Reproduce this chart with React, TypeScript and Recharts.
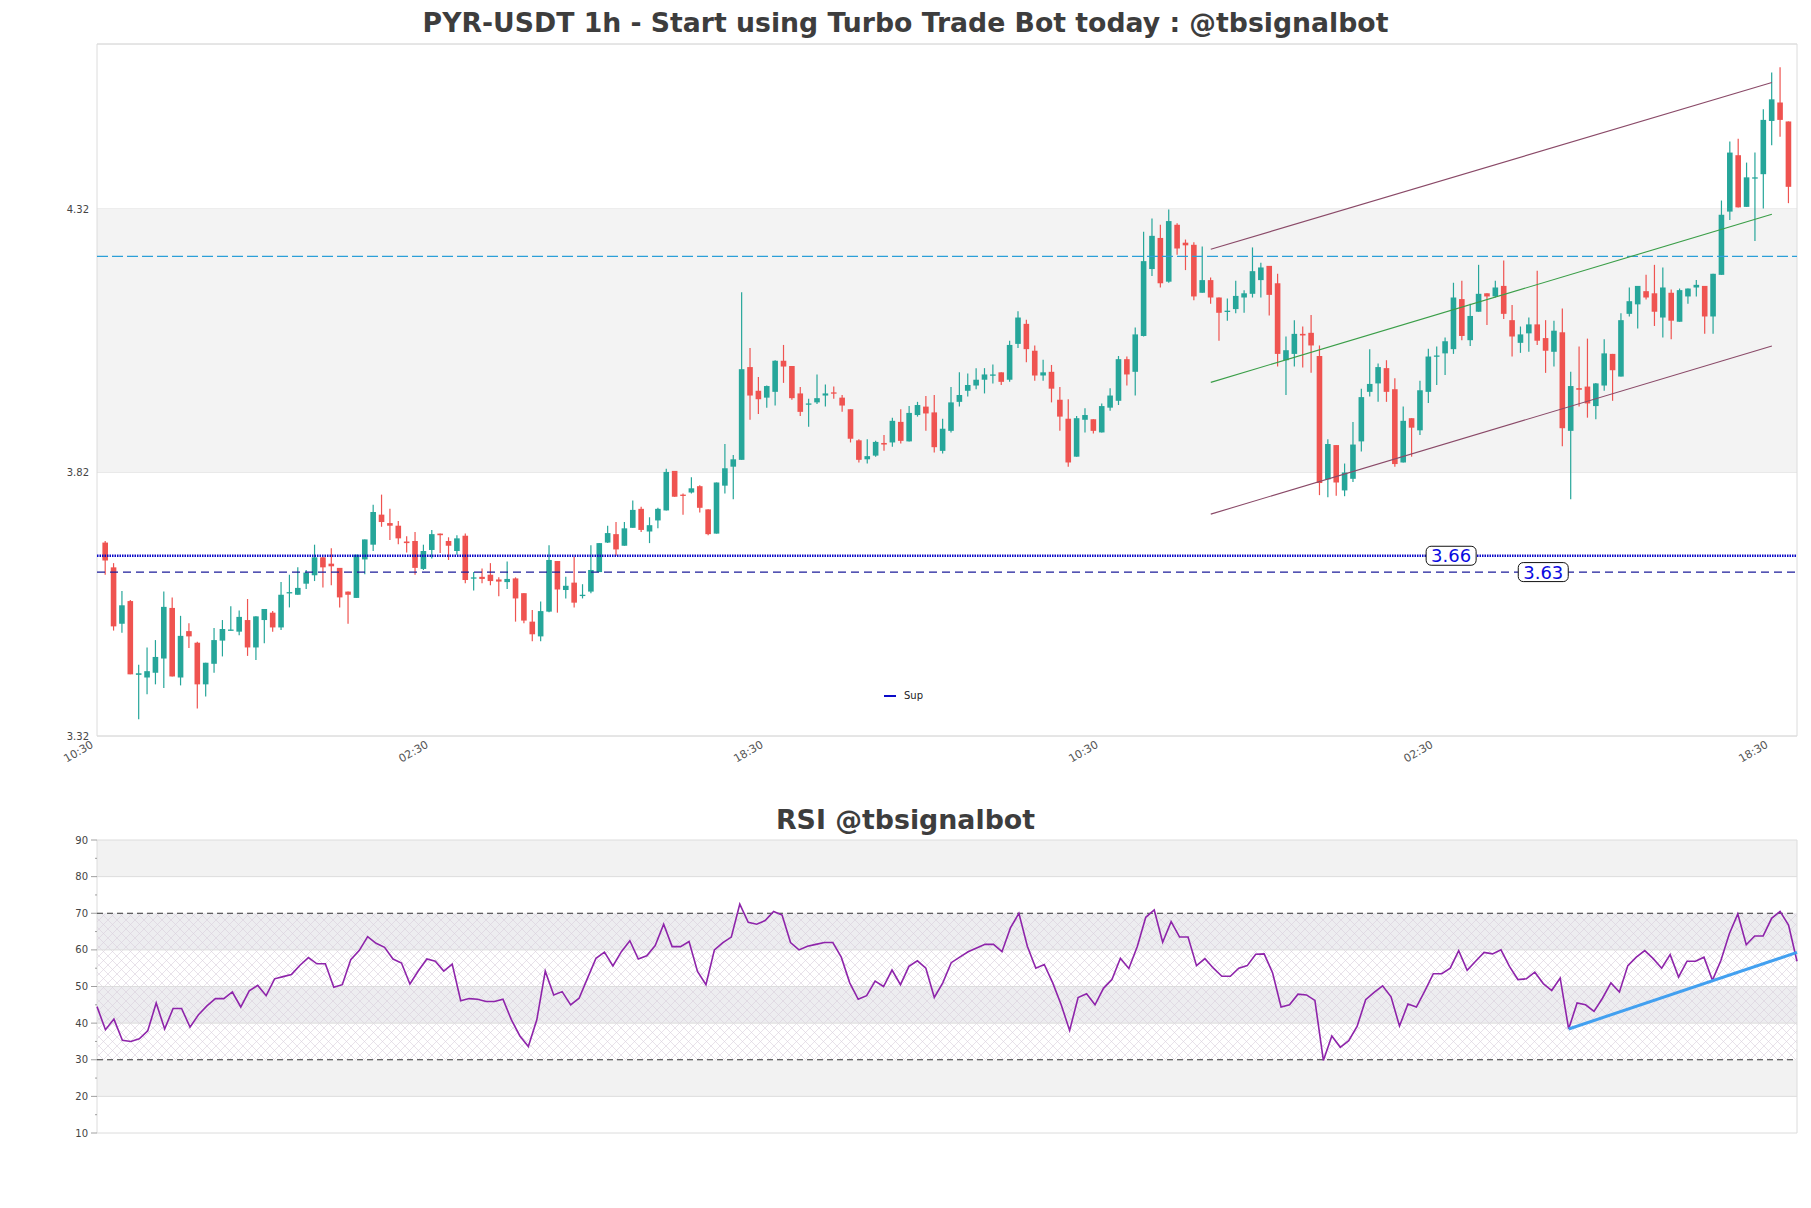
import {
  ComposedChart,
  Bar,
  Line,
  XAxis,
  YAxis,
  CartesianGrid,
  ReferenceLine,
  ReferenceArea,
  ReferenceDot,
} from "recharts";

// hourly candles, index 1..202
const opens = [
  3.687, 3.640, 3.533, 3.576, 3.436, 3.431, 3.440, 3.467, 3.563, 3.431,
  3.519, 3.497, 3.418, 3.457, 3.501, 3.520, 3.518, 3.540, 3.488, 3.540,
  3.554, 3.526, 3.592, 3.588, 3.609, 3.625, 3.659, 3.647, 3.639, 3.594,
  3.582, 3.655, 3.683, 3.740, 3.724, 3.719, 3.689, 3.690, 3.637, 3.673,
  3.704, 3.690, 3.671, 3.700, 3.619, 3.622, 3.626, 3.617, 3.612, 3.619,
  3.591, 3.537, 3.509, 3.556, 3.652, 3.597, 3.611, 3.586, 3.594, 3.631,
  3.687, 3.703, 3.681, 3.715, 3.751, 3.708, 3.729, 3.748, 3.823, 3.778,
  3.782, 3.794, 3.750, 3.704, 3.795, 3.831, 3.844, 4.020, 3.975, 3.962,
  3.973, 4.032, 4.022, 3.970, 3.950, 3.953, 3.966, 3.972, 3.962, 3.940,
  3.881, 3.845, 3.852, 3.876, 3.877, 3.916, 3.879, 3.929, 3.945, 3.934,
  3.861, 3.899, 3.954, 3.975, 3.985, 3.996, 4.004, 4.010, 3.996, 4.064,
  4.102, 4.051, 4.004, 4.011, 3.958, 3.922, 3.850, 3.920, 3.921, 3.896,
  3.943, 3.956, 4.035, 4.011, 4.079, 4.206, 4.265, 4.182, 4.290, 4.256,
  4.252, 4.161, 4.185, 4.152, 4.125, 4.130, 4.152, 4.159, 4.185, 4.212,
  4.179, 4.033, 4.045, 4.083, 4.085, 4.041, 3.807, 3.872, 3.786, 3.808,
  3.879, 3.973, 3.989, 4.018, 3.978, 3.839, 3.923, 3.900, 3.973, 4.040,
  4.046, 4.054, 4.149, 4.071, 4.125, 4.160, 4.154, 4.174, 4.109, 4.066,
  4.084, 4.101, 4.075, 4.049, 4.086, 3.899, 3.980, 3.983, 3.946, 3.985,
  4.045, 4.002, 4.121, 4.139, 4.164, 4.160, 4.114, 4.161, 4.106, 4.154,
  4.171, 4.174, 4.116, 4.195, 4.315, 4.422, 4.324, 4.378, 4.386, 4.487,
  4.522, 4.486,
];
const highs = [
  3.690, 3.648, 3.595, 3.578, 3.455, 3.488, 3.502, 3.594, 3.583, 3.548,
  3.534, 3.499, 3.459, 3.525, 3.540, 3.566, 3.558, 3.580, 3.547, 3.561,
  3.557, 3.612, 3.626, 3.640, 3.635, 3.683, 3.659, 3.676, 3.639, 3.594,
  3.664, 3.693, 3.759, 3.778, 3.751, 3.728, 3.699, 3.707, 3.683, 3.711,
  3.704, 3.697, 3.701, 3.704, 3.631, 3.638, 3.648, 3.621, 3.651, 3.621,
  3.591, 3.559, 3.575, 3.682, 3.652, 3.622, 3.660, 3.608, 3.682, 3.686,
  3.719, 3.726, 3.726, 3.767, 3.755, 3.735, 3.753, 3.827, 3.823, 3.780,
  3.811, 3.796, 3.750, 3.801, 3.874, 3.853, 4.162, 4.056, 4.001, 3.985,
  4.033, 4.062, 4.022, 3.982, 3.960, 4.006, 3.987, 3.983, 3.967, 3.940,
  3.883, 3.883, 3.880, 3.891, 3.924, 3.940, 3.946, 3.954, 3.965, 3.967,
  3.922, 3.982, 4.010, 4.008, 4.018, 4.018, 4.025, 4.010, 4.070, 4.126,
  4.110, 4.061, 4.034, 4.024, 3.982, 3.959, 3.927, 3.942, 3.921, 3.951,
  3.980, 4.041, 4.040, 4.095, 4.277, 4.302, 4.290, 4.319, 4.293, 4.262,
  4.257, 4.249, 4.190, 4.152, 4.150, 4.184, 4.166, 4.247, 4.218, 4.212,
  4.197, 4.078, 4.109, 4.097, 4.119, 4.061, 3.883, 3.872, 3.837, 3.916,
  3.979, 4.054, 4.027, 4.033, 3.999, 3.945, 3.923, 3.994, 4.055, 4.059,
  4.076, 4.180, 4.184, 4.140, 4.214, 4.160, 4.184, 4.222, 4.138, 4.097,
  4.114, 4.203, 4.109, 4.108, 4.131, 4.011, 4.059, 4.074, 3.990, 4.073,
  4.045, 4.122, 4.171, 4.174, 4.195, 4.214, 4.209, 4.167, 4.169, 4.169,
  4.185, 4.174, 4.197, 4.336, 4.448, 4.453, 4.408, 4.427, 4.509, 4.579,
  4.589, 4.486,
];
const lows = [
  3.626, 3.520, 3.516, 3.437, 3.352, 3.399, 3.418, 3.411, 3.433, 3.416,
  3.487, 3.372, 3.395, 3.440, 3.471, 3.520, 3.511, 3.472, 3.464, 3.496,
  3.518, 3.521, 3.564, 3.588, 3.599, 3.614, 3.602, 3.606, 3.564, 3.533,
  3.582, 3.627, 3.671, 3.717, 3.692, 3.684, 3.668, 3.626, 3.635, 3.657,
  3.667, 3.654, 3.664, 3.610, 3.596, 3.610, 3.606, 3.585, 3.599, 3.537,
  3.534, 3.500, 3.500, 3.555, 3.554, 3.581, 3.564, 3.581, 3.591, 3.631,
  3.686, 3.662, 3.681, 3.715, 3.707, 3.686, 3.714, 3.748, 3.774, 3.740,
  3.780, 3.744, 3.701, 3.704, 3.780, 3.769, 3.844, 3.920, 3.931, 3.943,
  3.947, 3.990, 3.958, 3.927, 3.907, 3.950, 3.945, 3.960, 3.935, 3.877,
  3.839, 3.837, 3.850, 3.861, 3.869, 3.875, 3.879, 3.926, 3.899, 3.858,
  3.856, 3.896, 3.945, 3.964, 3.978, 3.970, 3.989, 3.986, 3.992, 4.056,
  4.029, 3.994, 3.994, 3.953, 3.899, 3.831, 3.850, 3.896, 3.894, 3.896,
  3.937, 3.948, 3.985, 3.966, 4.078, 4.193, 4.171, 4.180, 4.233, 4.204,
  4.147, 4.161, 4.140, 4.070, 4.108, 4.122, 4.123, 4.152, 4.152, 4.118,
  4.021, 3.967, 4.021, 4.019, 4.009, 3.777, 3.773, 3.776, 3.775, 3.802,
  3.860, 3.964, 3.954, 3.954, 3.831, 3.839, 3.850, 3.891, 3.952, 3.986,
  4.005, 4.045, 4.071, 4.060, 4.125, 4.100, 4.152, 4.111, 4.040, 4.047,
  4.049, 4.062, 4.009, 4.021, 3.870, 3.769, 3.945, 3.924, 3.921, 3.975,
  3.956, 4.002, 4.116, 4.093, 4.148, 4.098, 4.076, 4.073, 4.106, 4.140,
  4.154, 4.083, 4.083, 4.195, 4.299, 4.323, 4.324, 4.259, 4.321, 4.441,
  4.457, 4.331,
];
const closes = [
  3.653, 3.528, 3.568, 3.437, 3.439, 3.443, 3.470, 3.565, 3.433, 3.510,
  3.509, 3.418, 3.459, 3.502, 3.523, 3.522, 3.546, 3.488, 3.547, 3.561,
  3.526, 3.588, 3.593, 3.601, 3.630, 3.659, 3.640, 3.642, 3.583, 3.588,
  3.664, 3.693, 3.745, 3.726, 3.719, 3.695, 3.686, 3.639, 3.671, 3.703,
  3.701, 3.681, 3.695, 3.616, 3.621, 3.618, 3.614, 3.613, 3.618, 3.581,
  3.539, 3.513, 3.557, 3.654, 3.598, 3.605, 3.573, 3.588, 3.635, 3.686,
  3.705, 3.674, 3.714, 3.749, 3.711, 3.720, 3.751, 3.821, 3.774, 3.776,
  3.790, 3.753, 3.703, 3.801, 3.828, 3.845, 4.016, 3.966, 3.959, 3.984,
  4.032, 4.021, 3.961, 3.935, 3.951, 3.961, 3.970, 3.970, 3.947, 3.884,
  3.844, 3.851, 3.878, 3.873, 3.918, 3.880, 3.933, 3.948, 3.932, 3.868,
  3.903, 3.953, 3.967, 3.986, 3.996, 4.006, 4.006, 3.992, 4.062, 4.114,
  4.054, 4.004, 4.010, 3.979, 3.926, 3.839, 3.923, 3.929, 3.899, 3.946,
  3.966, 4.035, 4.006, 4.082, 4.221, 4.269, 4.179, 4.297, 4.245, 4.251,
  4.154, 4.185, 4.152, 4.123, 4.127, 4.155, 4.160, 4.202, 4.209, 4.157,
  4.045, 4.052, 4.083, 4.080, 4.061, 3.800, 3.874, 3.801, 3.820, 3.873,
  3.963, 3.988, 4.020, 3.973, 3.836, 3.918, 3.905, 3.976, 4.040, 4.042,
  4.069, 4.152, 4.079, 4.117, 4.159, 4.154, 4.171, 4.121, 4.078, 4.082,
  4.101, 4.070, 4.051, 4.089, 3.904, 3.984, 3.977, 3.951, 3.989, 4.046,
  4.014, 4.109, 4.145, 4.174, 4.152, 4.125, 4.171, 4.108, 4.166, 4.169,
  4.176, 4.116, 4.197, 4.309, 4.427, 4.323, 4.380, 4.380, 4.489, 4.528,
  4.489, 4.362,
];

const timeTicks = [0, 40, 80, 120, 160, 200];
const timeLabels = ["10:30", "02:30", "18:30", "10:30", "02:30", "18:30"];
const priceTicks = [3.32, 3.82, 4.32];

// channel drawn over the last part of the series
const channelX = [133, 200];
const channelUpper = [4.2435, 4.56];
const channelMid = [3.991, 4.31];
const channelLower = [3.741, 4.06];

const resistance = 4.23;
const supDotted = 3.662;
const supDashed = 3.631;
const supLabels = [
  { x: 161.7, y: 3.662, text: "3.66" },
  { x: 172.7, y: 3.631, text: "3.63" },
];

const rsiValues = [
  44.5, 38.2, 41.1, 35.3, 35.0, 35.7, 37.9, 45.5, 38.4, 44.0,
  44.0, 38.9, 42.3, 44.7, 46.7, 46.7, 48.5, 44.4, 48.8, 50.3,
  47.5, 52.1, 52.7, 53.3, 55.8, 57.9, 56.2, 56.2, 49.8, 50.5,
  57.3, 59.8, 63.6, 61.8, 60.7, 57.5, 56.4, 50.7, 54.3, 57.5,
  56.9, 54.2, 56.1, 46.1, 46.7, 46.5, 45.9, 45.9, 46.5, 40.9,
  36.5, 33.6, 40.9, 54.2, 47.7, 48.6, 45.0, 46.8, 52.3, 57.7,
  59.4, 55.6, 59.5, 62.5, 57.5, 58.4, 61.2, 67.0, 60.9, 60.9,
  62.3, 54.1, 50.5, 60.0, 62.0, 63.5, 72.5, 67.5, 67.0, 68.0,
  70.5, 69.5, 62.0, 60.0, 61.0, 61.5, 62.0, 62.0, 58.0, 51.0,
  46.5, 47.5, 51.5, 50.0, 54.5, 50.5, 55.5, 57.0, 55.0, 47.0,
  51.0, 56.5, 58.0, 59.5, 60.5, 61.5, 61.5, 59.5, 66.0, 70.0,
  61.0, 55.0, 56.0, 51.0, 45.0, 38.0, 47.0, 48.0, 45.0, 49.5,
  51.9, 57.7, 54.9, 60.9, 68.9, 70.9, 62.1, 67.7, 63.5, 63.5,
  55.7, 57.6, 55.0, 52.8, 52.8, 55.0, 55.7, 58.8, 58.9, 53.7,
  44.4, 45.0, 47.9, 47.7, 46.2, 29.8, 36.5, 33.4, 35.2, 39.2,
  46.4, 48.4, 50.2, 47.2, 39.2, 45.2, 44.4, 48.8, 53.5, 53.5,
  55.0, 59.8, 54.4, 56.9, 59.3, 58.9, 60.0, 55.5, 51.9, 52.1,
  53.9, 50.8, 48.9, 52.3, 38.4, 45.5, 45.0, 43.2, 46.8, 51.0,
  48.5, 55.7, 58.0, 59.8, 57.6, 55.0, 58.7, 52.6, 56.9, 56.9,
  58.0, 51.7, 57.1, 64.4, 69.8, 61.4, 63.8, 63.8, 68.6, 70.5,
  66.8, 56.9,
];
const rsiTicks = [10, 15, 20, 25, 30, 35, 40, 45, 50, 55, 60, 65, 70, 75, 80, 85, 90];
const rsiGrid = [20, 40, 50, 60, 80];
const rsiTrendX = [174, 201];
const rsiTrendY = [38.4, 59.3];

const candles = opens.map((o, n) => ({ i: n + 1, o, h: highs[n], l: lows[n], c: closes[n] }));
const rsiData = rsiValues.map((v, k) => ({ k, v }));

const FONT = '"DejaVu Sans", "Liberation Sans", sans-serif';

function Candle(props: any) {
  const { x, y, width, height, payload } = props;
  if (x == null || y == null || !payload) return null;
  const top = Math.min(y, y + height);
  const span = Math.abs(height);
  const { o, h, l, c } = payload;
  const k = h - l > 0 ? span / (h - l) : 0;
  const py = (v: number) => top + (h - v) * k;
  const color = c >= o ? "#26a69a" : "#ef5350";
  const cx = x + width / 2;
  const bTop = py(Math.max(o, c));
  const bBot = py(Math.min(o, c));
  const bw = 5.6;
  return (
    <g>
      <line x1={cx} x2={cx} y1={top} y2={top + span} stroke={color} strokeWidth={1.2} />
      <rect x={cx - bw / 2} y={bTop} width={bw} height={Math.max(1.3, bBot - bTop)} fill={color} />
    </g>
  );
}

function TimeTick(props: any) {
  const { x, y, payload } = props;
  const idx = timeTicks.indexOf(payload.value);
  return (
    <g transform={`translate(${x},${y})`}>
      <text x={-4} y={1} textAnchor="end" fontSize={11} fill="#555" fontFamily={FONT} transform="rotate(-30)">
        {timeLabels[idx]}
      </text>
    </g>
  );
}

function RsiTick(props: any) {
  const { x, y, payload } = props;
  const major = payload.value % 10 === 0;
  return (
    <g>
      <line x1={x + (major ? 2 : 6)} x2={x + 8} y1={y} y2={y} stroke="#888" strokeWidth={0.8} />
      {major && (
        <text x={x - 1} y={y} dy={3.5} textAnchor="end" fontSize={10} fill="#444" fontFamily={FONT}>
          {payload.value}
        </text>
      )}
    </g>
  );
}

function PriceBox(props: any) {
  const { cx, cy, text } = props;
  if (cx == null) return null;
  return (
    <g>
      <rect x={cx - 25} y={cy - 9.5} width={50} height={19} rx={5} fill="#fff" stroke="#111" strokeWidth={1} />
      <text x={cx} y={cy} dy={6.5} textAnchor="middle" fontSize={18} fill="#0a0ae0" fontFamily={FONT}>
        {text}
      </text>
    </g>
  );
}

export default function App() {
  return (
    <div style={{ position: "absolute", left: 0, top: 0, width: 1811, height: 1208, background: "#fff", fontFamily: FONT }}>
      <div style={{ position: "absolute", top: 7, left: 0, width: 1811, textAlign: "center", fontSize: 26.7, fontWeight: "bold", color: "#3d3d3d" }}>
        PYR-USDT 1h - Start using Turbo Trade Bot today : @tbsignalbot
      </div>

      <div style={{ position: "absolute", top: 0, left: 0 }}>
        <ComposedChart width={1811} height={790} data={candles} margin={{ top: 44, right: 14, bottom: 24, left: 37 }}>
          <ReferenceArea y1={3.82} y2={4.32} fill="#f3f3f3" fillOpacity={1} ifOverflow="hidden" />
          <CartesianGrid vertical={false} stroke="#dedede" />
          <ReferenceArea x1={0} x2={203} y1={3.32} y2={4.633} fill="none" stroke="#dcdcdc" strokeWidth={1} />
          <XAxis
            type="number"
            dataKey="i"
            domain={[0, 203]}
            ticks={timeTicks}
            axisLine={false}
            tickLine={false}
            tick={<TimeTick />}
            height={30}
            allowDataOverflow
          />
          <YAxis
            type="number"
            domain={[3.32, 4.633]}
            ticks={priceTicks}
            axisLine={false}
            tickLine={false}
            width={60}
            tick={{ fontSize: 10, fill: "#444", fontFamily: FONT }}
            tickFormatter={(v: number) => v.toFixed(2)}
            allowDataOverflow
          />
          <ReferenceLine y={resistance} stroke="#2b9fd8" strokeWidth={1.3} strokeDasharray="11 4" />
          <ReferenceLine y={supDotted} stroke="#0a0ac8" strokeWidth={2.4} strokeDasharray="1.5 1" />
          <ReferenceLine y={supDashed} stroke="#1c1c9a" strokeWidth={1.4} strokeDasharray="8 5" />
          <ReferenceLine
            segment={[{ x: channelX[0], y: channelUpper[0] }, { x: channelX[1], y: channelUpper[1] }]}
            stroke="#8a4a68"
            strokeWidth={1.1}
          />
          <ReferenceLine
            segment={[{ x: channelX[0], y: channelMid[0] }, { x: channelX[1], y: channelMid[1] }]}
            stroke="#3a9e48"
            strokeWidth={1.1}
          />
          <ReferenceLine
            segment={[{ x: channelX[0], y: channelLower[0] }, { x: channelX[1], y: channelLower[1] }]}
            stroke="#8a4a68"
            strokeWidth={1.1}
          />
          <Bar dataKey={(d: any) => [d.l, d.h]} shape={<Candle />} barSize={6} isAnimationActive={false} />
          {supLabels.map((s) => (
            <ReferenceDot key={s.text} x={s.x} y={s.y} r={1} shape={(p: any) => <PriceBox {...p} text={s.text} />} />
          ))}
        </ComposedChart>
      </div>

      <div style={{ position: "absolute", top: 690, left: 884, display: "flex", alignItems: "center", fontSize: 10, color: "#222" }}>
        <span style={{ display: "inline-block", width: 12, height: 2, background: "#0a0ac8", marginRight: 8 }} />
        Sup
      </div>

      <div style={{ position: "absolute", top: 804, left: 0, width: 1811, textAlign: "center", fontSize: 26.8, fontWeight: "bold", color: "#3d3d3d" }}>
        RSI @tbsignalbot
      </div>

      <div style={{ position: "absolute", top: 830, left: 0 }}>
        <ComposedChart width={1811} height={330} data={rsiData} margin={{ top: 10, right: 14, bottom: 27, left: 37 }}>
          <defs>
            <pattern id="rsiHatch" width="9" height="9" patternUnits="userSpaceOnUse">
              <path d="M0,0 L9,9 M9,0 L0,9" stroke="#d9cfdc" strokeWidth={0.6} />
            </pattern>
          </defs>
          <ReferenceArea y1={80} y2={90} fill="#f2f2f2" fillOpacity={1} />
          <ReferenceArea y1={60} y2={70} fill="#ededf0" fillOpacity={1} />
          <ReferenceArea y1={40} y2={50} fill="#ededf0" fillOpacity={1} />
          <ReferenceArea y1={20} y2={30} fill="#f2f2f2" fillOpacity={1} />
          <ReferenceArea y1={30} y2={70} fill="url(#rsiHatch)" fillOpacity={1} />
          {rsiGrid.map((g) => (
            <ReferenceLine key={g} y={g} stroke="#dddddd" strokeWidth={1} />
          ))}
          <ReferenceArea x1={0} x2={201} y1={10} y2={90} fill="none" stroke="#dcdcdc" strokeWidth={1} />
          <ReferenceLine y={70} stroke="#333" strokeWidth={1} strokeDasharray="6 4" />
          <ReferenceLine y={30} stroke="#333" strokeWidth={1} strokeDasharray="6 4" />
          <XAxis type="number" dataKey="k" domain={[0, 201]} hide />
          <YAxis
            type="number"
            domain={[10, 90]}
            ticks={rsiTicks}
            interval={0}
            axisLine={false}
            tickLine={false}
            width={60}
            tick={<RsiTick />}
          />
          <Line type="linear" dataKey="v" stroke="#8e24aa" strokeWidth={1.6} dot={false} isAnimationActive={false} />
          <ReferenceLine
            segment={[{ x: rsiTrendX[0], y: rsiTrendY[0] }, { x: rsiTrendX[1], y: rsiTrendY[1] }]}
            stroke="#42a0f0"
            strokeWidth={3}
          />
        </ComposedChart>
      </div>
    </div>
  );
}
